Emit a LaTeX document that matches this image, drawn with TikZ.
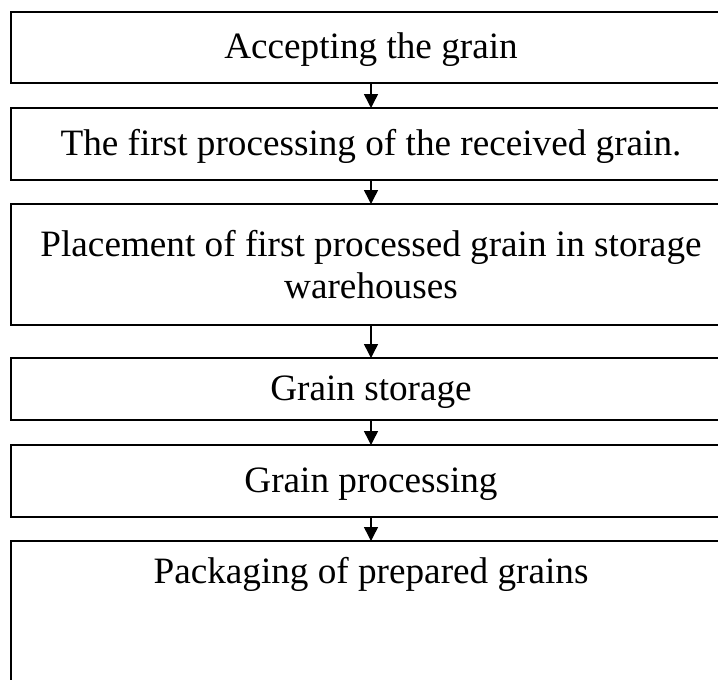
\documentclass[tikz,border=0pt]{standalone}
\usepackage{fontspec}
\setmainfont{Liberation Serif}
\usetikzlibrary{arrows.meta}
\tikzset{
  stepbox/.style={draw=black, line width=2pt, minimum width=720pt, inner sep=0pt, outer sep=0pt,
    font=\fontsize{37.2}{42}\selectfont, align=center},
  oneline/.style={text height=28pt, text depth=6pt},
  arr/.style={line width=1.5pt, -{Triangle[width=14pt,length=14pt]}}
}
\begin{document}
\begin{tikzpicture}[x=1pt,y=-1pt]
\clip (0,0) rectangle (718,680);
\fill[white] (0,0) rectangle (718,680);
\node[stepbox, oneline, minimum height=71pt] (b1) at (371,47.5) {Accepting the grain};
\node[stepbox, oneline, minimum height=72pt] (b2) at (371,144) {The first processing of the received grain.};
\node[stepbox, minimum height=121pt] (b3) at (371,264.5) {Placement of first processed grain in storage\\warehouses};
\node[stepbox, oneline, minimum height=62pt] (b4) at (371,389) {Grain storage};
\node[stepbox, oneline, minimum height=72pt] (b5) at (371,481) {Grain processing};
\node[stepbox, text height=42pt, text depth=117pt, anchor=north] (b6) at (371,541) {Packaging of prepared grains};
\draw[arr] (b1.south) -- (b2.north);
\draw[arr] (b2.south) -- (b3.north);
\draw[arr] (b3.south) -- (b4.north);
\draw[arr] (b4.south) -- (b5.north);
\draw[arr] (b5.south) -- (b6.north);
\end{tikzpicture}
\end{document}
